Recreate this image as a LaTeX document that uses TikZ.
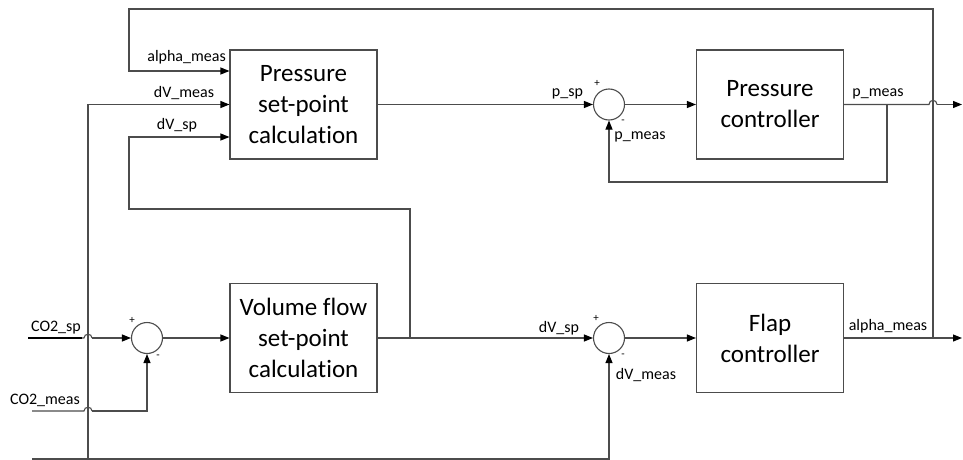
\documentclass[tikz,border=0pt]{standalone}
\usepackage{fontspec}
\setmainfont{Carlito}[Ligatures={NoCommon}]
\usetikzlibrary{arrows.meta}
\begin{document}
\begin{tikzpicture}[x=1pt,y=-1pt,
  line/.style={draw=black!70, line width=1.1pt},
  arr/.style={line, -{Triangle[length=9pt,width=7pt,color=black]}},
  block/.style={draw=black!70, line width=1.1pt, minimum width=147pt, minimum height=109pt, inner sep=0pt, align=center, font=\fontsize{25}{31}\selectfont},
  sum/.style={circle, draw=black!70, line width=1.1pt, minimum size=31pt, inner sep=0pt},
  lbl/.style={font=\fontsize{16}{18}\selectfont, inner sep=0pt},
  sgn/.style={font=\fontsize{11}{11}\selectfont, inner sep=0pt}]
\useasboundingbox (0,0) rectangle (963,460);
% blocks
\node[block] (psc) at (303.5,104.5) {Pressure\\set-point\\calculation};
\node[block] (pc) at (770,104.5) {Pressure\\controller};
\node[block] (vfc) at (303.5,338) {Volume flow\\set-point\\calculation};
\node[block] (fc) at (770,338) {Flap\\controller};
% sums
\node[sum] (s1) at (609,104.5) {};
\node[sum] (s2) at (609,338) {};
\node[sum] (s0) at (147,338) {};
% coordinates
\coordinate (pscA) at ([yshift=33.5pt]psc.west);
\coordinate (pscS) at ([yshift=-32.5pt]psc.west);
\coordinate (jA) at (933,338);
\coordinate (jV) at (410,338);
\coordinate (fb) at (887,104.5);
\coordinate (out1) at (962,104.5);
\coordinate (out2) at (962,338);
\coordinate (co2sp) at (28,338);
\coordinate (co2m) at (32,411);
\coordinate (dvm) at (32,459);
\coordinate (jB) at (88,459);
% connectors
\draw[arr] (psc.east) -- (s1.west);
\draw[arr] (s1.east) -- (pc.west);
\draw[line] (pc.east) -- (929,104.5) .. controls (929,99) and (937,99) .. (937,104.5);
\draw[arr] (937,104.5) -- (out1);
\draw[arr] (fb) -- (887,182) -- (609,182) -- (s1.south);
\draw[arr] (jA) -- (933,9) -- (129,9) -- (129,71) -- (pscA);
\draw[arr] (fc.east) -- (out2);
\draw[arr] (vfc.east) -- (s2.west);
\draw[arr] (s2.east) -- (fc.west);
\draw[arr] (jV) -- (410,209) -- (129,209) -- (129,137) -- (pscS);
\draw[arr] (s0.east) -- (vfc.west);
\draw[line, draw=black] (co2sp) -- (82,338);
\draw[line] (82,338) -- (84,338) .. controls (84,333) and (92,333) .. (92,338);
\draw[arr] (92,338) -- (s0.west);
\draw[line] (co2m) -- (84,411) .. controls (84,406) and (92,406) .. (92,411);
\draw[arr] (92,411) -- (147,411) -- (s0.south);
\draw[arr] (dvm) -- (609,459) -- (s2.south);
\draw[arr] (jB) -- (88,104.5) -- (psc.west);
% labels
\node[lbl, anchor=east] (l1) at (226,57) {alpha\_meas};
\node[lbl] (l2) at (184,93) {dV\_meas};
\node[lbl] (l3) at (177,125) {dV\_sp};
\node[lbl] (l4) at (567.5,94) {p\_sp};
\node[sgn] (l5) at (597,83) {+};
\node[sgn] (l6) at (623,122) {-};
\node[lbl] (l7) at (640,137) {p\_meas};
\node[lbl] (l8) at (878,94) {p\_meas};
\node[lbl] (l9) at (559,328) {dV\_sp};
\node[sgn] (l10) at (596,318) {+};
\node[sgn] (l11) at (623,356) {-};
\node[lbl] (l12) at (646,375) {dV\_meas};
\node[lbl] (l13) at (888,326) {alpha\_meas};
\node[lbl] (l14) at (56,328) {CO2\_sp};
\node[sgn] (l15) at (132,320) {+};
\node[sgn] (l16) at (158,357) {-};
\node[lbl] (l17) at (45,400) {CO2\_meas};
\end{tikzpicture}
\end{document}
